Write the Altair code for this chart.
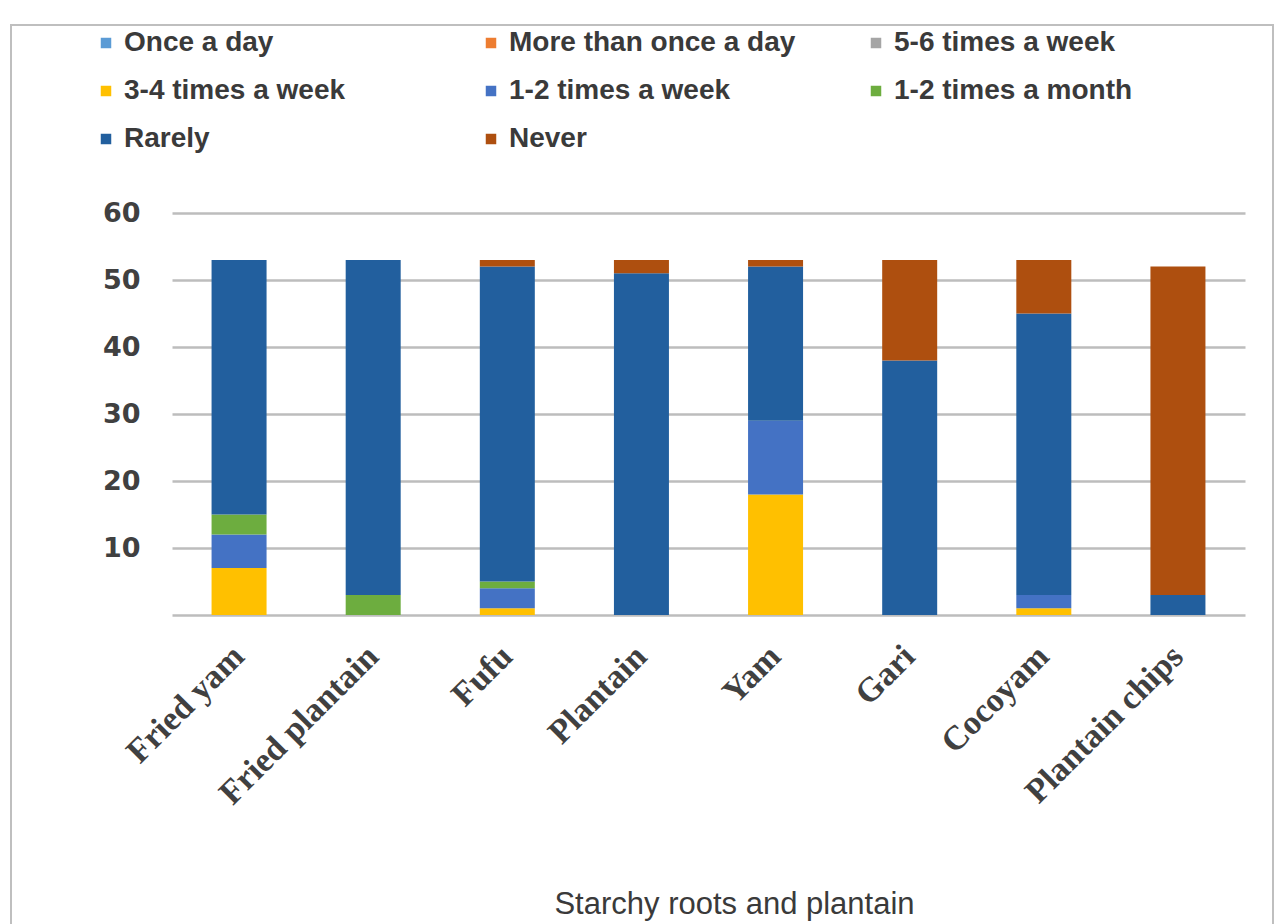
import altair as alt
import pandas as pd

# Foods on the x axis
foods = ["Fried yam", "Fried plantain", "Fufu", "Plantain", "Yam", "Gari", "Cocoyam", "Plantain chips"]

# Frequency categories, bottom to top of each stack, with their colours
frequency_levels = [
    "Once a day", "More than once a day", "5-6 times a week",
    "3-4 times a week", "1-2 times a week", "1-2 times a month",
    "Rarely", "Never",
]
level_colors = ["#5B9BD5", "#ED7D31", "#A5A5A5", "#FFC000", "#4472C4", "#6DAD3F", "#225F9E", "#AE4F0F"]

# Legend reads across in three columns; entries are filled column by column
legend_order = [
    "Once a day", "3-4 times a week", "Rarely",
    "More than once a day", "1-2 times a week", "Never",
    "5-6 times a week", "1-2 times a month",
]

# Number of respondents per food for each frequency
once_a_day = [0, 0, 0, 0, 0, 0, 0, 0]
more_than_once_a_day = [0, 0, 0, 0, 0, 0, 0, 0]
five_six_week = [0, 0, 0, 0, 0, 0, 0, 0]
three_four_week = [7, 0, 1, 0, 18, 0, 1, 0]
one_two_week = [5, 0, 3, 0, 11, 0, 2, 0]
one_two_month = [3, 3, 1, 0, 0, 0, 0, 0]
rarely = [38, 50, 47, 51, 23, 38, 42, 3]
never = [0, 0, 1, 2, 1, 15, 8, 49]

series = [once_a_day, more_than_once_a_day, five_six_week, three_four_week,
          one_two_week, one_two_month, rarely, never]

rows = []
for idx, (level, values) in enumerate(zip(frequency_levels, series)):
    for food, v in zip(foods, values):
        if v > 0:
            rows.append({"food": food, "frequency": level, "count": v, "stack_order": idx})
df = pd.DataFrame(rows)

color_of = dict(zip(frequency_levels, level_colors))
legend_colors = [color_of[name] for name in legend_order]

W, H = 1073, 402
TEXT = "#404040"

bars = alt.Chart(df).mark_bar(size=55).encode(
    x=alt.X(
        "food:N", sort=foods,
        scale=alt.Scale(paddingInner=0, paddingOuter=0),
        axis=alt.Axis(
            title="Starchy roots and plantain",
            titleFont="Liberation Sans", titleFontSize=31, titleFontWeight="normal",
            titleColor="#3A3A3A", titleX=562, titleY=298, titleAnchor="middle", titleBaseline="alphabetic",
            labelAngle=-45, labelAlign="right", labelBaseline="middle",
            labelFont="Liberation Serif", labelFontSize=34, labelFontWeight="bold",
            labelColor=TEXT, labelPadding=36, labelLimit=500,
            domain=False, ticks=False, grid=False,
        ),
    ),
    y=alt.Y(
        "count:Q", stack="zero",
        scale=alt.Scale(domain=[0, 60], nice=False),
        axis=alt.Axis(
            title=None, values=[0, 10, 20, 30, 40, 50, 60],
            labelExpr="datum.value == 0 ? '' : datum.label",
            labelFont="DejaVu Sans", labelFontSize=27, labelFontWeight="bold",
            labelColor=TEXT, labelPadding=32,
            domain=False, ticks=False,
            grid=True, gridColor="#BDBDBD", gridWidth=2.5,
        ),
    ),
    color=alt.Color(
        "frequency:N",
        scale=alt.Scale(domain=legend_order, range=legend_colors),
        legend=alt.Legend(
            title=None, orient="none", legendX=-80, legendY=-184,
            columns=3, gridAlign="all", columnPadding=66, rowPadding=20,
            symbolType="square", symbolSize=110, symbolStrokeWidth=0, symbolOffset=0,
            labelFont="Liberation Sans", labelFontSize=28, labelFontWeight="bold",
            labelColor="#3A3A3A", labelLimit=400, labelOffset=4,
        ),
    ),
    order=alt.Order("stack_order:Q"),
)

frame = alt.Chart(pd.DataFrame({"k": [0]})).mark_rect(
    filled=False, stroke="#BFBFBF", strokeWidth=2
).encode(
    x=alt.value(-161), x2=alt.value(1101), y=alt.value(-188), y2=alt.value(730)
)

chart = alt.layer(frame, bars).properties(
    width=W, height=H,
    autosize=alt.AutoSizeParams(type="none"),
    padding={"left": 172, "top": 213, "right": 41, "bottom": 309},
    background="white",
).configure_view(stroke=None)

chart.save("out.html", embed_options={"renderer": "svg", "actions": False})
